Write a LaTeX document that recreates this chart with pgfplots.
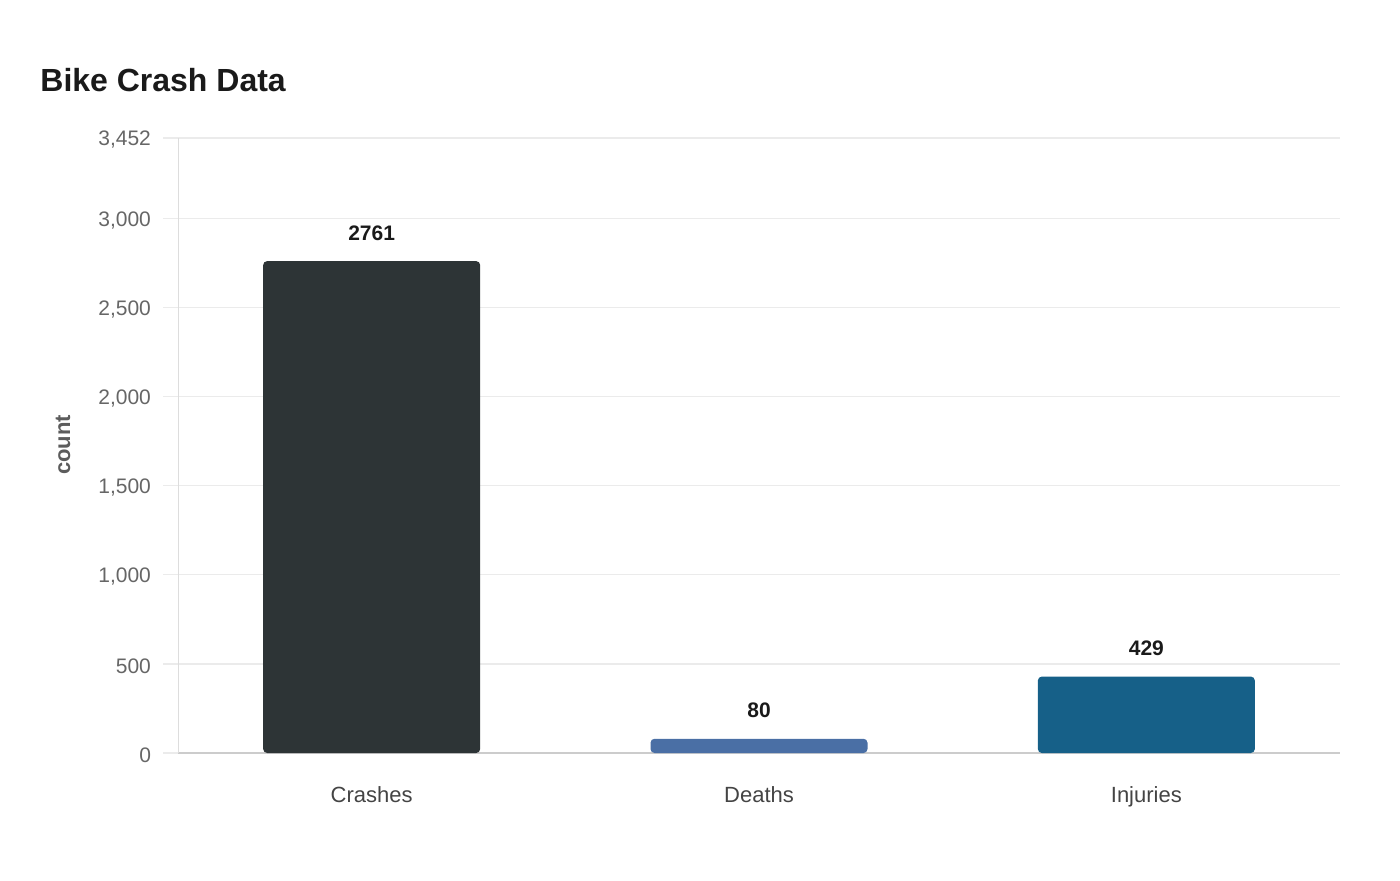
\documentclass[border=0pt]{standalone}
\usepackage{pgfplots}
\pgfplotsset{compat=1.18}
\usepackage{fontspec}
\setmainfont{Liberation Sans}

\definecolor{crashc}{HTML}{2D3436}
\definecolor{deathc}{HTML}{4A6FA5}
\definecolor{injuc}{HTML}{166088}
\definecolor{gridc}{HTML}{EBEBEB}
\definecolor{leftc}{HTML}{DDDDDD}
\definecolor{botc}{HTML}{CCCCCC}
\definecolor{tickc}{HTML}{666666}
\definecolor{xlabc}{HTML}{444444}
\definecolor{titlec}{HTML}{1A1A1A}

\begin{document}
\begin{tikzpicture}[x=1pt,y=1pt]
\path[use as bounding box] (0,0) rectangle (700,440);
\node[anchor=base west, inner sep=0pt, font=\fontsize{16}{19}\selectfont\bfseries, text=titlec] at (20,394) {Bike Crash Data};
\node[rotate=90, font=\fontsize{11}{13}\selectfont\bfseries, text=tickc!90!black] at (31.5,217.5) {count};
\begin{axis}[
    at={(89pt,63.5pt)}, anchor=south west,
    scale only axis, width=581pt, height=307.5pt,
    xmin=-0.5, xmax=2.5, ymin=0, ymax=3452,
    ybar, bar width=108.5pt,
    xtick={0,1,2}, xticklabels={Crashes,Deaths,Injuries},
    ytick={0,500,1000,1500,2000,2500,3000,3452},
    axis x line*=bottom, axis y line*=left,
    x axis line style={draw=botc, line width=0.8pt, -},
    y axis line style={draw=leftc, line width=0.5pt, -},
    ymajorgrids, grid style={draw=gridc, line width=0.6pt},
    tick align=outside, major tick length=7.5pt,
    xtick style={draw=none},
    ytick style={draw=gridc, line width=0.6pt},
    yticklabel style={font=\fontsize{10.5}{12}\selectfont, text=tickc,
        xshift=-2.5pt, yshift=-1pt,
        /pgf/number format/.cd, 1000 sep={,}, assume math mode=true},
    xticklabel style={font=\fontsize{11}{13}\selectfont, text=xlabc, yshift=-5.5pt},
    nodes near coords,
    nodes near coords style={anchor=base, yshift=10.5pt,
        font=\fontsize{10.5}{12}\selectfont\bfseries, text=titlec,
        /pgf/number format/.cd, 1000 sep={}, assume math mode=true},
    every axis plot/.append style={bar shift=0pt, draw=none, rounded corners=2pt},
  ]
  \addplot[fill=crashc] coordinates {(0,2761)};
  \addplot[fill=deathc] coordinates {(1,80)};
  \addplot[fill=injuc] coordinates {(2,429)};
\end{axis}
\end{tikzpicture}
\end{document}
